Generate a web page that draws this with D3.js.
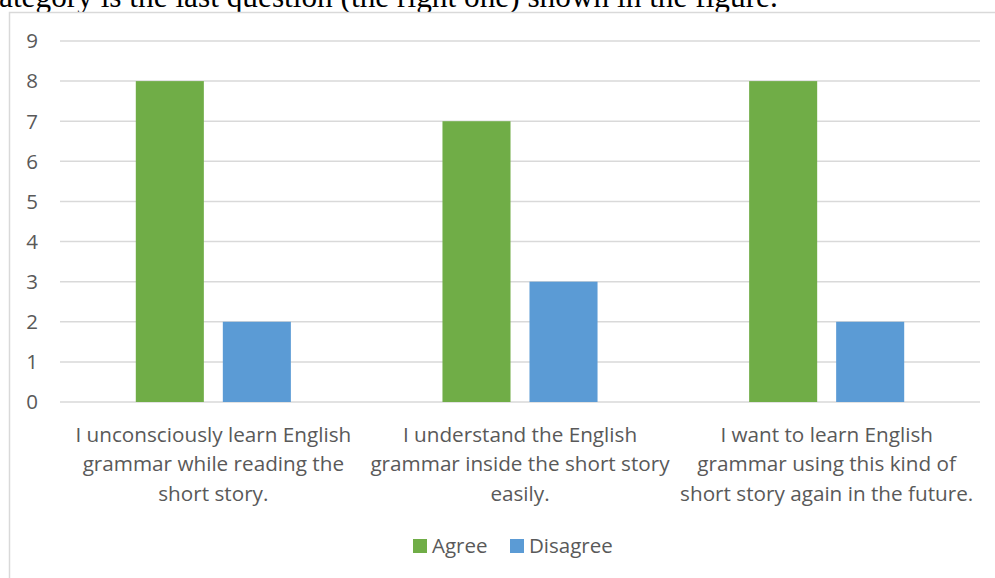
<!DOCTYPE html>
<html><head><meta charset="utf-8">
<script src="https://cdn.jsdelivr.net/npm/d3@7"></script>
<style>html,body{margin:0;padding:0;background:#fff;overflow:hidden}</style>
</head><body>
<svg id="c" width="995" height="578"></svg>
<script>
const categories = [
  ["I unconsciously learn English", "grammar while reading the", "short story."],
  ["I understand the English", "grammar inside the short story", "easily."],
  ["I want to learn English", "grammar using this kind of", "short story again in the future."]
];
const seriesNames = ["Agree", "Disagree"];
const agree = [8, 7, 8];
const disagree = [2, 3, 2];
const yTicks = [0,1,2,3,4,5,6,7,8,9];
const colors = ["#70AD47", "#5B9BD5"];
const caption = "ategory is the last question (the right one) shown in the figure.";

(function () {
const svg = d3.select("#c");
const font = "'Open Sans', 'Noto Sans', sans-serif";

// caption (cut off at top)
svg.append("text").attr("x", -1).attr("y", 7)
  .attr("font-family", "'Liberation Serif', 'Times New Roman', serif")
  .attr("font-size", 31.3).attr("fill", "#000").text(caption);

// chart border
svg.append("rect").attr("x", 9.5).attr("y", 12.5).attr("width", 1000).attr("height", 600)
  .attr("fill", "#fff").attr("stroke", "#D9D9D9").attr("stroke-width", 1.5);

const pLeft = 60, pRight = 980, pTop = 41, pBottom = 402;
const x0 = d3.scaleBand().domain(d3.range(categories.length)).range([pLeft, pRight]).paddingInner(0).paddingOuter(0);
const y = d3.scaleLinear().domain([0, 9]).range([pBottom, pTop]);
const x1 = d3.scaleBand().domain(seriesNames).range([0, x0.bandwidth()]).paddingInner(0.218).paddingOuter(0.871);

// gridlines
svg.append("g").selectAll("line").data(yTicks).join("line")
  .attr("x1", pLeft).attr("x2", pRight)
  .attr("y1", d => y(d)).attr("y2", d => y(d))
  .attr("stroke", "#D9D9D9").attr("stroke-width", 1.5);

// y labels
svg.append("g").selectAll("text").data(yTicks).join("text")
  .attr("x", 38).attr("y", d => y(d)).attr("dy", "0.36em")
  .attr("text-anchor", "end").attr("font-family", font).attr("font-size", 20.5)
  .attr("fill", "#595959").text(d => d);

// bars
const g = svg.append("g");
categories.forEach((c, i) => {
  [agree[i], disagree[i]].forEach((v, k) => {
    g.append("rect")
      .attr("x", x0(i) + x1(seriesNames[k])).attr("width", x1.bandwidth())
      .attr("y", y(v)).attr("height", y(0) - y(v))
      .attr("fill", colors[k]);
  });
});

// category labels
categories.forEach((lines, i) => {
  const t = svg.append("text").attr("text-anchor", "middle")
    .attr("font-family", font).attr("font-size", 20.7).attr("fill", "#595959");
  lines.forEach((ln, j) => {
    t.append("tspan").attr("x", x0(i) + x0.bandwidth() / 2).attr("y", 442 + j * 29.3).text(ln);
  });
});

// legend
const leg = svg.append("g");
const legX = [413, 510];
seriesNames.forEach((s, k) => {
  leg.append("rect").attr("x", legX[k]).attr("y", 539).attr("width", 14).attr("height", 14).attr("fill", colors[k]);
  leg.append("text").attr("x", legX[k] + 19).attr("y", 553)
    .attr("font-family", font).attr("font-size", 20.5).attr("fill", "#595959").text(s);
});
})();
</script>
</body></html>
